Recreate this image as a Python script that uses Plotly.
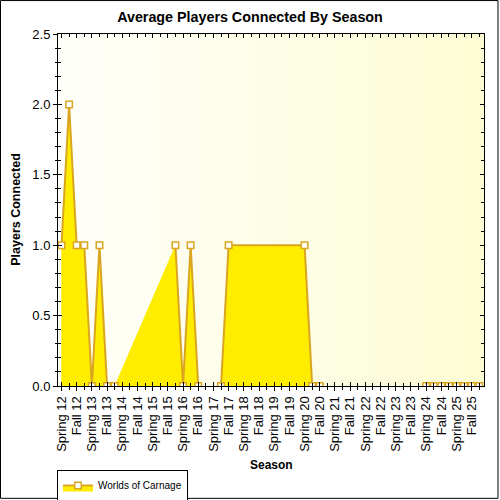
#%% Import modules
import plotly.graph_objects as go

#%% Data

seasons = ["Spring 12", "Fall 12", "Spring 13", "Fall 13", "Spring 14", "Fall 14",
           "Spring 15", "Fall 15", "Spring 16", "Fall 16", "Spring 17", "Fall 17",
           "Spring 18", "Fall 18", "Spring 19", "Fall 19", "Spring 20", "Fall 20",
           "Spring 21", "Fall 21", "Spring 22", "Fall 22", "Spring 23", "Fall 23",
           "Spring 24", "Fall 24", "Spring 25", "Fall 25"]

# position on the season axis (0 = Spring 12, half steps between seasons)
point_pos = [0, 0.5, 1, 1.5, 2, 2.5, 3, 3.5, 7.5, 8, 8.5, 9, 10.5, 11, 16,
             16.5, 17, 24, 24.5, 25, 25.5, 26, 26.5, 27, 27.5]
players = [1, 2, 1, 1, 0, 1, 0, 0, 1, 0, 1, 0, 0, 1, 1,
           0, 0, 0, 0, 0, 0, 0, 0, 0, 0]

# line is broken after these positions (missing values)
missing_after = [3.5, 9, 17]

series_name = "Worlds of Carnage"

#%% Build line with gaps

line_x, line_y = [], []
for xv, yv in zip(point_pos, players):
    line_x.append(xv)
    line_y.append(yv)
    if xv in missing_after:
        line_x.append(None)
        line_y.append(None)

fill_col = "rgb(255,237,0)"
line_col = "rgb(218,165,32)"
x_rng = [-0.23, 27.81]
y_rng = [0, 2.5]

fig = go.Figure()

# background gradient (white -> light goldenrod yellow)
fig.add_trace(go.Scatter(x=[x_rng[0], x_rng[1], x_rng[1], x_rng[0], x_rng[0]],
                         y=[y_rng[0], y_rng[0], y_rng[1], y_rng[1], y_rng[0]],
                         mode="lines", line=dict(width=0), fill="toself",
                         fillgradient=dict(type="horizontal",
                                           colorscale=[[0, "rgb(255,255,250)"],
                                                       [1, "rgb(252,252,212)"]]),
                         hoverinfo="skip", showlegend=False))

# area fill across the missing values
fig.add_trace(go.Scatter(x=point_pos, y=players, mode="lines",
                         line=dict(width=0), fill="tozeroy", fillcolor=fill_col,
                         hoverinfo="skip", showlegend=False))

# line + markers
fig.add_trace(go.Scatter(x=line_x, y=line_y, mode="lines+markers",
                         name=series_name, connectgaps=False,
                         fill="tozeroy", fillcolor=fill_col,
                         line=dict(color=line_col, width=2),
                         marker=dict(symbol="square", size=6.5, color="white",
                                     line=dict(color=line_col, width=1.5))))

# empty trace so the overlay axes get drawn
fig.add_trace(go.Scatter(x=[None], y=[None], xaxis="x2", yaxis="y2",
                         showlegend=False, hoverinfo="skip"))

L, R, T, B = 58, 16, 34, 113.5
pw, ph = 500 - L - R, 500 - T - B

fnt = "Liberation Sans, Arial, sans-serif"

fig.update_layout(
    width=500, height=500,
    margin=dict(l=L, r=R, t=T, b=B, pad=0, autoexpand=False),
    paper_bgcolor="white", plot_bgcolor="rgb(254,254,232)",
    font=dict(family=fnt, size=13, color="black"),
    title=dict(text="<b>Average Players Connected By Season</b>",
               x=0.5, xref="container", y=1 - 17 / 500, yref="container",
               xanchor="center", yanchor="middle",
               font=dict(size=14.3, family=fnt)),
    xaxis=dict(range=x_rng, tickmode="array", tickvals=list(range(len(seasons))),
               ticktext=seasons, tickangle=-90, ticks="outside", ticklen=4,
               tickcolor="black", showline=True, linecolor="black", linewidth=1,
               showgrid=True, gridcolor="rgb(196,196,196)", griddash="dot",
               gridwidth=1, zeroline=False, tickfont=dict(size=13),
               automargin=False,
               minor=dict(tickmode="linear", tick0=0, dtick=0.5, ticks="outside",
                          ticklen=3, tickcolor="black", showgrid=False)),
    xaxis2=dict(range=x_rng, overlaying="x", side="top", anchor="y",
                tickmode="array", tickvals=list(range(len(seasons))),
                ticks="inside", ticklen=4, tickcolor="black", mirror="ticks",
                showline=True, linecolor="black", showticklabels=False,
                showgrid=False, zeroline=False, automargin=False,
                minor=dict(tickmode="linear", tick0=0, dtick=0.5, ticks="inside",
                           ticklen=3, tickcolor="black", showgrid=False)),
    yaxis=dict(range=y_rng, tickmode="linear", tick0=0, dtick=0.5,
               tickformat=".1f", ticks="outside", ticklen=4, tickcolor="black",
               showline=True, linecolor="black", linewidth=1,
               showgrid=True, gridcolor="rgb(196,196,196)", griddash="dot",
               zeroline=False, tickfont=dict(size=13), automargin=False,
               minor=dict(tickmode="linear", tick0=0, dtick=0.1, ticks="outside",
                          ticklen=2.5, tickcolor="black", showgrid=False)),
    yaxis2=dict(range=y_rng, overlaying="y", side="right", anchor="x",
                tickmode="linear", tick0=0, dtick=0.5, ticks="inside", ticklen=4,
                tickcolor="black", mirror="ticks", showline=True,
                linecolor="black", showticklabels=False, showgrid=False,
                zeroline=False, automargin=False,
                minor=dict(tickmode="linear", tick0=0, dtick=0.1, ticks="inside",
                           ticklen=3, tickcolor="black", showgrid=False)),
    showlegend=True,
    legend=dict(orientation="h", xref="container", yref="container",
                x=57 / 500, y=1 - 470 / 500,
                xanchor="left", yanchor="top", bordercolor="black",
                borderwidth=1, bgcolor="white", font=dict(size=10, family=fnt),
                itemwidth=30, tracegroupgap=0),
    annotations=[
        dict(text="<b>Players Connected</b>", xref="paper", yref="paper",
             x=(16 - L) / pw, y=(386.5 - 210) / ph, textangle=-90,
             showarrow=False, font=dict(size=12.5, family=fnt),
             xanchor="center", yanchor="middle"),
        dict(text="<b>Season</b>", xref="paper", yref="paper",
             x=0.5, y=(386.5 - 466) / ph, showarrow=False,
             font=dict(size=12, family=fnt), xanchor="center", yanchor="middle"),
    ],
    shapes=[dict(type="rect", xref="paper", yref="paper",
                 x0=(0.5 - L) / pw, x1=(498 - L) / pw,
                 y0=(386.5 - 499) / ph, y1=(386.5 - 0.5) / ph,
                 line=dict(color="black", width=1), layer="above")],
)

# the page body has a default 8px margin; drop it so the chart sits at 0,0
fig.write_html("out.html", config={"displayModeBar": False},
               post_script="document.body.style.margin='0px';")
